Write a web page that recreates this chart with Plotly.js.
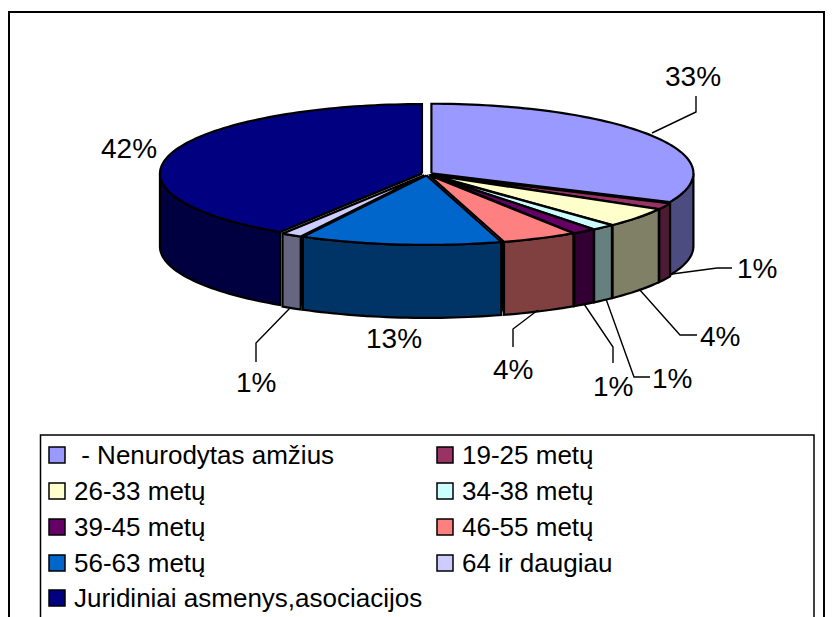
<!DOCTYPE html>
<html><head><meta charset="utf-8">
<script src="https://cdn.plot.ly/plotly-3.0.1.min.js"></script>
<style>html,body{margin:0;padding:0;background:#fff;overflow:hidden}</style>
</head><body><div id="chart" style="width:833px;height:617px"></div>
<script>
// ---- data ----
const categories = ['\u00a0- Nenurodytas amžius','19-25 metų','26-33 metų','34-38 metų','39-45 metų','46-55 metų','56-63 metų','64 ir daugiau','Juridiniai asmenys,asociacijos'];
const shares = [32.5,1.3,4.15,1.3,1.3,4.15,12.5,1.3,41.5];
const topColors = ['#9999FF','#993366','#FFFFCC','#CCFFFF','#660066','#FF8080','#0066CC','#CCCCFF','#000080'];
const wallColors = ['#4C4C80','#4D1A33','#808066','#668080','#330033','#804040','#003366','#666680','#000040'];

// ---- layout constants ----
const cx = 427, cy = 174, rx = 262, ry = 69.5, depth = 73, explode = 0.02;
const font = 'Liberation Sans, Arial, sans-serif';
const labelPos = [[693,76],[757,268],[720,336],[672,378],[613,386],[513,369],[394,338],[256,382],[129,148]];
const leaders = [
  [[652,133],[696,112],[696,96]],
  [[672,274],[717,268],[732,268]],
  [[639,289],[680,335],[697,335]],
  [[606,299],[634,377],[650,377]],
  [[584,304],[613,347],[613,363]],
  [[538,310],[513,329],[513,347]],
  null,
  [[290,308],[256,343],[256,362]],
  null
];
const legendCols = [[57,72],[445,460]];
const legendRows = [455,491,527,563,598];
// the original's 3-D view bends angles slightly along the front rim: [true angle, bend in degrees]
const viewBend = [[0,0],[90,0],[117,-2.5],[141,0],[161,2.5],[210,2.2],[270,0],[360,0]];
const bend = a => { for(let i=1;i<viewBend.length;i++){ const p=viewBend[i-1],q=viewBend[i];
  if(a<=q[0]) return a+p[1]+(q[1]-p[1])*(a-p[0])/(q[0]-p[0]); } return a; };

const total = shares.reduce((a,b)=>a+b,0);
const rad = d => d*Math.PI/180;
const walls = [], tops = [];
let acc = 0, firstSeam = 0, lastSeam = 0;
shares.forEach((v,i)=>{
  const a0 = bend(acc/total*360), a1 = bend((acc+v)/total*360); acc += v;
  if(i===0) firstSeam = a1;
  if(i===shares.length-1) lastSeam = a0;
  const mid = rad((a0+a1)/2);
  const ox = cx + explode*rx*Math.sin(mid), oy = cy - explode*ry*Math.cos(mid);
  const pt = d => [ox+rx*Math.sin(rad(d)), oy-ry*Math.cos(rad(d))];
  const arc = (s,e) => { const n=Math.max(2,Math.ceil((e-s)/1.5)); const p=[]; for(let k=0;k<=n;k++) p.push(pt(s+(e-s)*k/n)); return p; };
  const poly = [[ox,oy],...arc(a0,a1),[ox,oy]];
  tops.push({type:'scatter',mode:'lines',x:poly.map(p=>p[0]),y:poly.map(p=>p[1]),fill:'toself',fillcolor:topColors[i],
    line:{color:'#000',width:2.2,simplify:false},name:categories[i],hoverinfo:'name',showlegend:false});
  const ws=Math.max(a0,90), we=Math.min(a1,270);
  if(we>ws){
    const up=arc(ws,we), low=up.slice().reverse().map(p=>[p[0],p[1]+depth]);
    const w=[...up,...low,up[0]];
    walls.push({type:'scatter',mode:'lines',x:w.map(p=>p[0]),y:w.map(p=>p[1]),fill:'toself',fillcolor:wallColors[i],
      line:{color:'#000',width:2.2,simplify:false},hoverinfo:'skip',showlegend:false});
  }
});
// black interior seen through the gaps between the separated slices
const inner=[]; for(let d=firstSeam;d<=lastSeam;d+=1.5) inner.push([cx+(rx-2)*Math.sin(rad(d)),cy-(ry-1)*Math.cos(rad(d))]);
const core=[[cx,cy],...inner,...inner.slice().reverse().map(p=>[p[0],p[1]+depth-1]),[cx,cy]];
const underlay={type:'scatter',mode:'lines',x:core.map(p=>p[0]),y:core.map(p=>p[1]),fill:'toself',fillcolor:'#000',
  line:{color:'#000',width:0},hoverinfo:'skip',showlegend:false};

const shapes = [
  {type:'rect',xref:'x',yref:'y',x0:9,y0:12,x1:824,y1:640,line:{color:'#000',width:2},fillcolor:'rgba(0,0,0,0)',layer:'below'},
  {type:'rect',xref:'x',yref:'y',x0:40.5,y0:435,x1:814,y1:640,line:{color:'#000',width:1.5},fillcolor:'#fff',layer:'below'}
];
leaders.forEach(l=>{ if(l) shapes.push({type:'path',xref:'x',yref:'y',
  path:'M'+l.map(p=>p.join(',')).join('L'),line:{color:'#000',width:1.4}}); });

const annotations = [];
shares.forEach((v,i)=>annotations.push({xref:'x',yref:'y',x:labelPos[i][0],y:labelPos[i][1],xanchor:'center',yanchor:'middle',
  showarrow:false,text:Math.round(v/total*100)+'%',font:{family:font,size:28,color:'#000'}}));
const swX=[],swY=[],swC=[];
categories.forEach((c,i)=>{
  const col=legendCols[i===8?0:i%2], row=legendRows[Math.floor(i/2)];
  swX.push(col[0]); swY.push(row); swC.push(topColors[i]);
  annotations.push({xref:'x',yref:'y',x:col[1],y:row,xanchor:'left',yanchor:'middle',showarrow:false,text:c,
    font:{family:font,size:26,color:'#000'}});
});
const swatches = {type:'scatter',mode:'markers',x:swX,y:swY,hoverinfo:'skip',showlegend:false,
  marker:{symbol:'square',size:16,color:swC,line:{color:'#000',width:1.5}}};

Plotly.newPlot('chart',[underlay,...walls,...tops,swatches],{
  width:833,height:617,margin:{l:0,r:0,t:0,b:0},paper_bgcolor:'#fff',plot_bgcolor:'#fff',showlegend:false,
  xaxis:{range:[0,833],visible:false,fixedrange:true},
  yaxis:{range:[617,0],visible:false,fixedrange:true},
  shapes,annotations
},{displayModeBar:false,staticPlot:true});
</script></body></html>
